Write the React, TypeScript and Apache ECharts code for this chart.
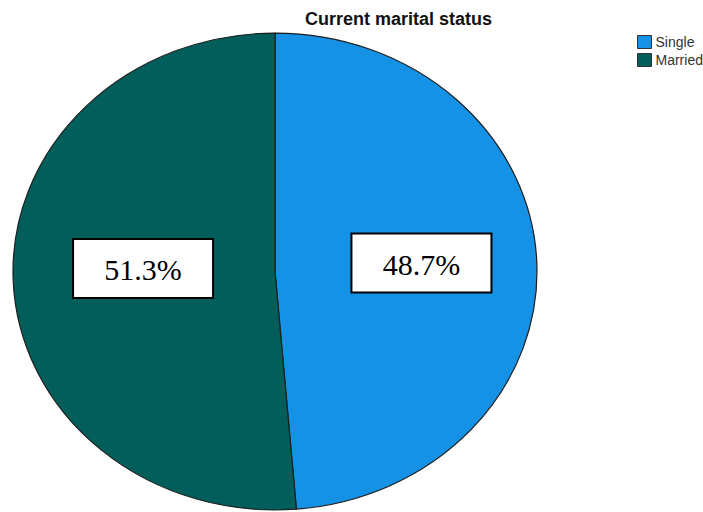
import React, { useEffect, useRef } from "react";
import * as echarts from "echarts";

const TITLE = "Current marital status";
const categories = ["Single", "Married"];
const percents = [48.7, 51.3];
const colors = ["#1592E6", "#025E5A"];

const CX = 275;
const CY = 271.5;
const RX = 262;
const RY = 238.5;
const LABEL_FRACTION = 0.53;
const LABEL_NUDGE = [
  [7.7, -3.3],
  [6.8, -8.2],
];

export default function App() {
  const ref = useRef<HTMLDivElement>(null);
  useEffect(() => {
    if (!ref.current) return;
    const chart = echarts.init(ref.current, undefined, { renderer: "svg" });
    const total = percents.reduce((a, b) => a + b, 0);
    const starts: number[] = [];
    let acc = 0;
    percents.forEach((v) => {
      starts.push(acc);
      acc += v;
    });

    const series = categories.map((name, idx) => ({
      type: "custom",
      name,
      coordinateSystem: "none",
      itemStyle: { color: colors[idx] },
      data: [[percents[idx]]],
      renderItem: (params: any, api: any) => {
        const value = api.value(0);
        const a0 = -Math.PI / 2 + (starts[idx] / total) * Math.PI * 2;
        const a1 = a0 + (value / total) * Math.PI * 2;
        const mid = (a0 + a1) / 2;
        const lx = CX + Math.cos(mid) * RX * LABEL_FRACTION + LABEL_NUDGE[idx][0];
        const ly = CY + Math.sin(mid) * RY * LABEL_FRACTION + LABEL_NUDGE[idx][1];
        return {
          type: "group",
          children: [
            {
              type: "group",
              x: CX,
              y: CY,
              scaleY: RY / RX,
              children: [
                {
                  type: "sector",
                  shape: { cx: 0, cy: 0, r0: 0, r: RX, startAngle: a0, endAngle: a1, clockwise: true },
                  style: { fill: api.visual("color"), stroke: "#1e1e1e", lineWidth: 1.2 },
                },
              ],
            },
            {
              type: "rect",
              shape: { x: lx - 70, y: ly - 29.5, width: 140, height: 59 },
              style: { fill: "#ffffff", stroke: "#000000", lineWidth: 2 },
            },
            {
              type: "text",
              x: lx,
              y: ly + 1,
              style: {
                text: value.toFixed(1) + "%",
                font: '30px "Liberation Serif", "Times New Roman", serif',
                fill: "#000000",
                align: "center",
                verticalAlign: "middle",
              },
            },
          ],
        };
      },
    }));

    chart.setOption({
      animation: false,
      backgroundColor: "#ffffff",
      title: {
        text: TITLE,
        left: 300,
        top: 5,
        textStyle: {
          fontFamily: '"Liberation Sans", Arial, sans-serif',
          fontWeight: "bold",
          fontSize: 18,
          color: "#111111",
        },
      },
      legend: {
        data: categories,
        orient: "vertical",
        left: 637,
        top: 35,
        icon: "rect",
        itemWidth: 14,
        itemHeight: 13,
        itemGap: 4,
        padding: 0,
        itemStyle: { borderColor: "#333333", borderWidth: 1 },
        textStyle: {
          fontFamily: '"Liberation Sans", Arial, sans-serif',
          fontSize: 14,
          color: "#333333",
          padding: [0, 0, 0, -1],
        },
        selectedMode: false,
      },
      series,
    });
    return () => chart.dispose();
  }, []);
  return <div ref={ref} style={{ width: 703, height: 512, position: "absolute", left: 0, top: 0 }} />;
}
